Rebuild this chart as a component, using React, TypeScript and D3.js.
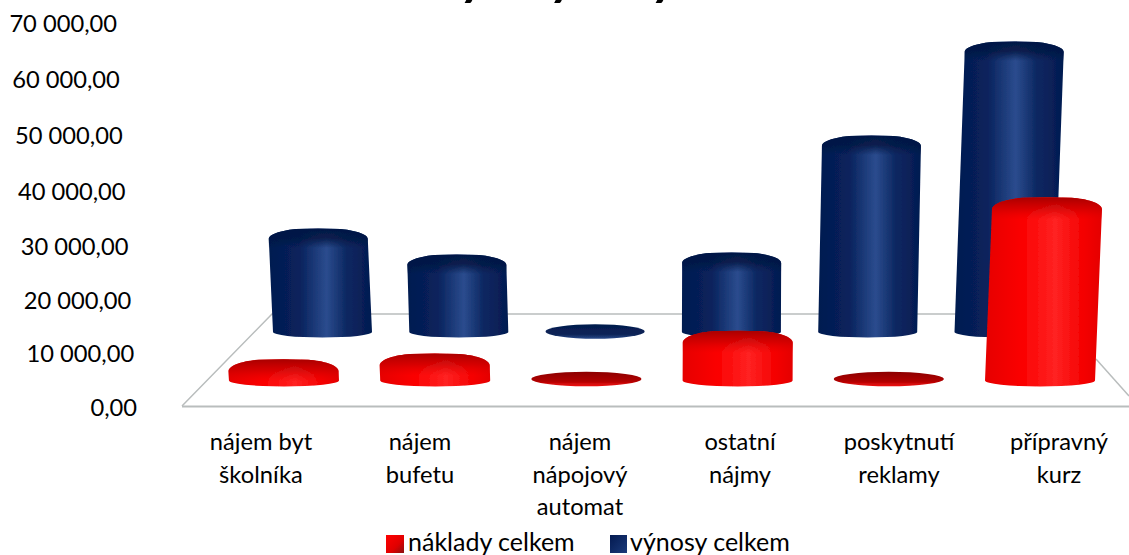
import React from "react";
import * as d3 from "d3";

const categories = [
  ["nájem byt", "školníka"],
  ["nájem", "bufetu"],
  ["nájem", "nápojový", "automat"],
  ["ostatní", "nájmy"],
  ["poskytnutí", "reklamy"],
  ["přípravný", "kurz"],
];
const labelCenters = [261, 420, 580, 740, 899, 1059];
const naklady = [1700, 2800, 100, 7000, 100, 31700];
const vynosy = [18600, 13400, 100, 13800, 37200, 56000];
const ticks = [0, 10000, 20000, 30000, 40000, 50000, 60000, 70000];
const FONT = "Lato, Carlito, Calibri, sans-serif";

const fmt = (v: number) => d3.format(",.2f")(v).replace(/,/g, " ").replace(".", ",");
const tickBaseline = d3.scaleLinear().domain([0, 30000, 50000, 70000]).range([416, 255, 144, 32]);
const tickRight = d3.scaleLinear().domain([0, 70000]).range([137, 117]);
const backX = d3.scalePoint<number>().domain(d3.range(6)).range([322.5, 1004]);
const frontX = d3.scalePoint<number>().domain(d3.range(6)).range([284, 1040]);
const backH = d3.scaleLinear().domain([0, 10000]).range([0, 50]);
const frontH = d3.scaleLinear().domain([0, 10000]).range([0, 54]);

function Cylinder({ cx, base, h, r, topRy, baseRy, side, shade, flat, smallY }: any) {
  if (h < 5) {
    return <ellipse cx={cx} cy={smallY} rx={r} ry={7.2} fill={`url(#${flat})`} />;
  }
  const tx = cx + (cx - 700) * 1.2e-4 * h;
  const ty = base - h;
  const L = tx - r;
  const R = tx + r;
  const top = ty - topRy;
  const crown = `C${R},${ty - topRy * 0.55} ${R - 16},${top + 1} ${tx + r * 0.45},${top} Q${tx},${top - 1} ${tx - r * 0.45},${top} C${L + 16},${top + 1} ${L},${ty - topRy * 0.55} ${L},${ty}`;
  const body = `M${cx - r},${base} A${r},${baseRy} 0 0 0 ${cx + r},${base} L${R},${ty} ${crown} Z`;
  const capBottom = ty + topRy * 0.9;
  const cap = `M${R},${capBottom} L${R},${ty} ${crown} L${L},${capBottom} Z`;
  return (
    <g>
      <path d={body} fill={`url(#${side})`} />
      <path d={cap} fill={`url(#${shade})`} />
    </g>
  );
}

export default function App() {
  return (
    <svg width={1129} height={555} style={{ position: "absolute", left: 0, top: 0, background: "#fff" }} fontFamily={FONT}>
      <defs>
        <linearGradient id="blueSide">
          <stop offset="0" stopColor="#041a50" />
          <stop offset="0.3" stopColor="#08225c" />
          <stop offset="0.56" stopColor="#2b4c8e" />
          <stop offset="0.75" stopColor="#0c2862" />
          <stop offset="1" stopColor="#041a50" />
        </linearGradient>
        <linearGradient id="redSide">
          <stop offset="0" stopColor="#e60000" />
          <stop offset="0.3" stopColor="#fa0000" />
          <stop offset="0.6" stopColor="#ff2222" />
          <stop offset="0.85" stopColor="#f40000" />
          <stop offset="1" stopColor="#e40000" />
        </linearGradient>
        <linearGradient id="blueShade" x1="0" y1="0" x2="0" y2="1">
          <stop offset="0" stopColor="#041845" stopOpacity="1" />
          <stop offset="0.5" stopColor="#041845" stopOpacity="0.85" />
          <stop offset="1" stopColor="#041845" stopOpacity="0" />
        </linearGradient>
        <linearGradient id="redShade" x1="0" y1="0" x2="0" y2="1">
          <stop offset="0" stopColor="#a80000" stopOpacity="1" />
          <stop offset="0.5" stopColor="#c80000" stopOpacity="0.7" />
          <stop offset="1" stopColor="#e00000" stopOpacity="0" />
        </linearGradient>
        <linearGradient id="blueFlat" x1="0" y1="0" x2="0" y2="1">
          <stop offset="0" stopColor="#041a4c" />
          <stop offset="0.7" stopColor="#0a2458" />
          <stop offset="1" stopColor="#2a4a88" />
        </linearGradient>
        <linearGradient id="redFlat" x1="0" y1="0" x2="0" y2="1">
          <stop offset="0" stopColor="#8c0000" />
          <stop offset="0.65" stopColor="#b00000" />
          <stop offset="1" stopColor="#f01010" />
        </linearGradient>
        <linearGradient id="legRed" x1="0" y1="0" x2="1" y2="1">
          <stop offset="0" stopColor="#ff0000" />
          <stop offset="0.6" stopColor="#e00000" />
          <stop offset="1" stopColor="#8a1010" />
        </linearGradient>
        <linearGradient id="legBlue" x1="0" y1="0" x2="1" y2="1">
          <stop offset="0" stopColor="#041a50" />
          <stop offset="1" stopColor="#1a3a7a" />
        </linearGradient>
        <filter id="soft"><feGaussianBlur stdDeviation="0.7" /></filter>
      </defs>

      <text x={305} y={-6} fontSize={52} fontWeight={700} fontStyle="italic" fill="#000">Náklady - výnosy</text>

      <g fill="none" stroke="#b9bdbd" filter="url(#soft)">
        <path d="M182,406.5 L1129,406.5" strokeWidth={2} />
        <path d="M182,406 L272,314 L1040,314" strokeWidth={1.5} />
        <path d="M1096,359 L1129,396" strokeWidth={1.5} />
      </g>

      <g filter="url(#soft)">
        {vynosy.map((v, i) => (
          <Cylinder key={i} cx={backX(i)} base={332} h={backH(v)} r={49.5} topRy={10} baseRy={5.5} side="blueSide" shade="blueShade" flat="blueFlat" smallY={331.5} />
        ))}
        {naklady.map((v, i) => (
          <Cylinder key={i} cx={frontX(i)} base={380.5} h={frontH(v)} r={55} topRy={11.5} baseRy={6} side="redSide" shade="redShade" flat="redFlat" smallY={379} />
        ))}
      </g>

      <g fill="#000">
        <g fontSize={23.7}>
          {ticks.map((t) => (
            <text key={t} x={tickRight(t)} y={tickBaseline(t)} textAnchor="end">{fmt(t)}</text>
          ))}
          {categories.map((lines, i) => (
            <text key={i} textAnchor="middle">
              {lines.map((l, j) => (
                <tspan key={j} x={labelCenters[i]} y={450 + j * 32.5}>{l}</tspan>
              ))}
            </text>
          ))}
        </g>
        <rect x={386} y={535} width={18} height={18} fill="url(#legRed)" />
        <text x={408} y={551} fontSize={25}>náklady celkem</text>
        <rect x={610} y={535} width={17} height={18} fill="url(#legBlue)" />
        <text x={630} y={551} fontSize={25}>výnosy celkem</text>
      </g>
    </svg>
  );
}
